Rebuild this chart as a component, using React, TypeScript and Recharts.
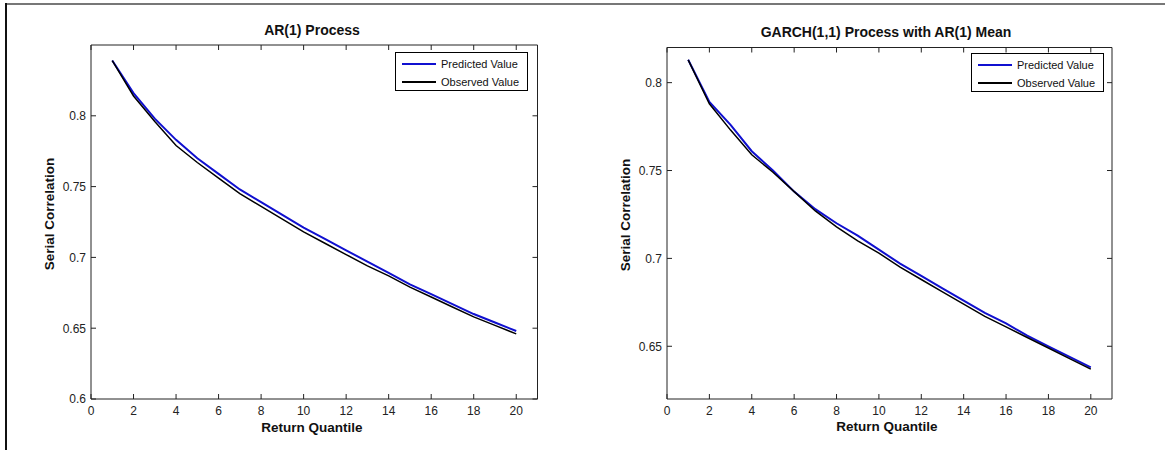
import React from 'react';
import { LineChart, Line, XAxis, YAxis, Legend } from 'recharts';

const quantiles = [1, 2, 3, 4, 5, 6, 7, 8, 9, 10, 11, 12, 13, 14, 15, 16, 17, 18, 19, 20];

const arPredicted = [0.839, 0.816, 0.798, 0.783, 0.770, 0.759, 0.748, 0.739, 0.730, 0.721, 0.713, 0.705, 0.697, 0.689, 0.681, 0.674, 0.667, 0.660, 0.654, 0.648];
const arObserved = [0.839, 0.814, 0.796, 0.779, 0.767, 0.756, 0.745, 0.736, 0.727, 0.718, 0.710, 0.702, 0.694, 0.687, 0.679, 0.672, 0.665, 0.658, 0.652, 0.646];

const garchPredicted = [0.813, 0.789, 0.776, 0.761, 0.750, 0.738, 0.728, 0.720, 0.713, 0.705, 0.697, 0.690, 0.683, 0.676, 0.669, 0.663, 0.656, 0.650, 0.644, 0.638];
const garchObserved = [0.813, 0.788, 0.773, 0.759, 0.749, 0.738, 0.727, 0.718, 0.710, 0.703, 0.695, 0.688, 0.681, 0.674, 0.667, 0.661, 0.655, 0.649, 0.643, 0.637];

const xTicks = [0, 2, 4, 6, 8, 10, 12, 14, 16, 18, 20];
const xDomain = [0, 21];
const arYTicks = [0.6, 0.65, 0.7, 0.75, 0.8];
const arYDomain = [0.6, 0.85];
const garchYTicks = [0.65, 0.7, 0.75, 0.8];
const garchYDomain = [0.62, 0.82];

const seriesNames = ['Predicted Value', 'Observed Value'];
const titles = ['AR(1) Process', 'GARCH(1,1) Process with AR(1) Mean'];
const xLabel = 'Return Quantile';
const yLabel = 'Serial Correlation';

const FONT = '"Liberation Sans", Arial, Helvetica, sans-serif';
const BLUE = '#1010d0';
const AXIS = '#222';
const TICK_LEN = 5;
const X_LABEL_GAP = 7;
const Y_LABEL_GAP = 5;

function buildRows(pred: number[], obs: number[]) {
  return quantiles.map((q, i) => ({ q, pred: pred[i], obs: obs[i] }));
}

const BottomTick = (p: any) => {
  const axisY = p.y - X_LABEL_GAP;
  return (
    <g>
      <line x1={p.x} x2={p.x} y1={axisY} y2={axisY - TICK_LEN} stroke={AXIS} strokeWidth={1} />
      <text x={p.x} y={p.y} dy="0.75em" textAnchor="middle" fontSize={12} fill="#222" fontFamily={FONT}>
        {String(p.payload.value)}
      </text>
    </g>
  );
};

const LeftTick = (p: any) => {
  const axisX = p.x + Y_LABEL_GAP;
  return (
    <g>
      <line x1={axisX} x2={axisX + TICK_LEN} y1={p.y} y2={p.y} stroke={AXIS} strokeWidth={1} />
      <text x={p.x} y={p.y} dy="0.36em" textAnchor="end" fontSize={12} fill="#222" fontFamily={FONT}>
        {String(p.payload.value)}
      </text>
    </g>
  );
};

const TopTick = (p: any) => (
  <line x1={p.x} x2={p.x} y1={p.y} y2={p.y + TICK_LEN} stroke={AXIS} strokeWidth={1} />
);

const RightTick = (p: any) => (
  <line x1={p.x} x2={p.x - TICK_LEN} y1={p.y} y2={p.y} stroke={AXIS} strokeWidth={1} />
);

type PanelProps = {
  data: { q: number; pred: number; obs: number }[];
  yDomain: number[];
  yTicks: number[];
  left: number;
  yAxisWidth: number;
  marginTop: number;
  marginRight: number;
  legendLeft: number;
  legendTop: number;
};

const LegendBox = (props: any) => {
  const payload = [...(props.payload || [])].sort(
    (a: any, b: any) => seriesNames.indexOf(a.value) - seriesNames.indexOf(b.value)
  );
  return (
    <div
      style={{
        width: 133,
        height: 39,
        border: '1px solid #000',
        background: '#fff',
        boxSizing: 'border-box',
        position: 'relative',
        fontFamily: FONT,
        fontSize: 11,
        color: '#111',
      }}
    >
      {payload.map((p: any, i: number) => (
        <div
          key={i}
          style={{ position: 'absolute', left: 0, top: 10.5 + i * 18.4 - 7, height: 14, width: 131 }}
        >
          <svg width={40} height={14} style={{ position: 'absolute', left: 6, top: 0 }}>
            <line x1={0} x2={34} y1={7} y2={7} stroke={p.color} strokeWidth={2} />
          </svg>
          <span style={{ position: 'absolute', left: 45, top: 0, lineHeight: '14px', whiteSpace: 'nowrap' }}>
            {p.value}
          </span>
        </div>
      ))}
    </div>
  );
};

function Panel(props: PanelProps) {
  const { data, yDomain, yTicks, left, yAxisWidth, marginTop, marginRight, legendLeft, legendTop } = props;
  return (
    <div style={{ position: 'absolute', left, top: 0 }}>
      <LineChart
        width={560}
        height={450}
        data={data}
        margin={{ top: marginTop - 1, right: marginRight - 1, bottom: 21, left: 0 }}
      >
        <XAxis
          dataKey="q"
          type="number"
          domain={xDomain}
          ticks={xTicks}
          height={30}
          tickSize={0}
          tickMargin={X_LABEL_GAP}
          tickLine={false}
          stroke={AXIS}
          tick={BottomTick}
          interval={0}
          allowDataOverflow
        />
        <XAxis
          xAxisId="top"
          orientation="top"
          dataKey="q"
          type="number"
          domain={xDomain}
          ticks={xTicks}
          height={1}
          tickSize={0}
          tickMargin={0}
          tickLine={false}
          tick={TopTick}
          interval={0}
          stroke={AXIS}
          allowDataOverflow
        />
        <YAxis
          type="number"
          domain={yDomain}
          ticks={yTicks}
          width={yAxisWidth}
          tickSize={0}
          tickMargin={Y_LABEL_GAP}
          tickLine={false}
          stroke={AXIS}
          tick={LeftTick}
          interval={0}
          allowDataOverflow
        />
        <YAxis
          yAxisId="right"
          orientation="right"
          type="number"
          domain={yDomain}
          ticks={yTicks}
          width={1}
          tickSize={0}
          tickMargin={0}
          tickLine={false}
          tick={RightTick}
          interval={0}
          stroke={AXIS}
          allowDataOverflow
        />
        <Legend
          layout="horizontal"
          verticalAlign="middle"
          align="center"
          content={LegendBox}
          wrapperStyle={{ left: legendLeft, top: legendTop, width: 133, height: 39 }}
        />
        <Line
          dataKey="pred"
          name={seriesNames[0]}
          stroke={BLUE}
          strokeWidth={2}
          dot={false}
          type="linear"
          isAnimationActive={false}
        />
        <Line
          dataKey="obs"
          name={seriesNames[1]}
          stroke="#000"
          strokeWidth={1.5}
          dot={false}
          type="linear"
          isAnimationActive={false}
        />
      </LineChart>
    </div>
  );
}

export default function App() {
  const arData = buildRows(arPredicted, arObserved);
  const garchData = buildRows(garchPredicted, garchObserved);
  return (
    <div
      style={{
        position: 'absolute',
        left: 0,
        top: 0,
        width: 1165,
        height: 450,
        background: '#fff',
        overflow: 'hidden',
      }}
    >
      <div style={{ position: 'absolute', left: 5, top: 3, width: 1165, height: 2, background: '#777' }} />
      <div style={{ position: 'absolute', left: 5, top: 3, width: 2, height: 450, background: '#111' }} />
      <Panel
        data={arData}
        yDomain={arYDomain}
        yTicks={arYTicks}
        left={0}
        yAxisWidth={91}
        marginTop={45}
        marginRight={22.5}
        legendLeft={395}
        legendTop={52}
      />
      <Panel
        data={garchData}
        yDomain={garchYDomain}
        yTicks={garchYTicks}
        left={580}
        yAxisWidth={87}
        marginTop={47.5}
        marginRight={28}
        legendLeft={391}
        legendTop={53}
      />
      <svg
        width={1165}
        height={450}
        style={{ position: 'absolute', left: 0, top: 0, pointerEvents: 'none' }}
        fontFamily={FONT}
        fontWeight="bold"
        fill="#111"
      >
        <text x={312} y={35} textAnchor="middle" fontSize={14}>{titles[0]}</text>
        <text x={886} y={36.5} textAnchor="middle" fontSize={14}>{titles[1]}</text>
        <text x={312} y={432} textAnchor="middle" fontSize={13.5}>{xLabel}</text>
        <text x={887} y={431} textAnchor="middle" fontSize={13.5}>{xLabel}</text>
        <text x={54} y={214} textAnchor="middle" fontSize={13.5} transform="rotate(-90 54 214)">{yLabel}</text>
        <text x={630} y={215} textAnchor="middle" fontSize={13.5} transform="rotate(-90 630 215)">{yLabel}</text>
      </svg>
    </div>
  );
}
